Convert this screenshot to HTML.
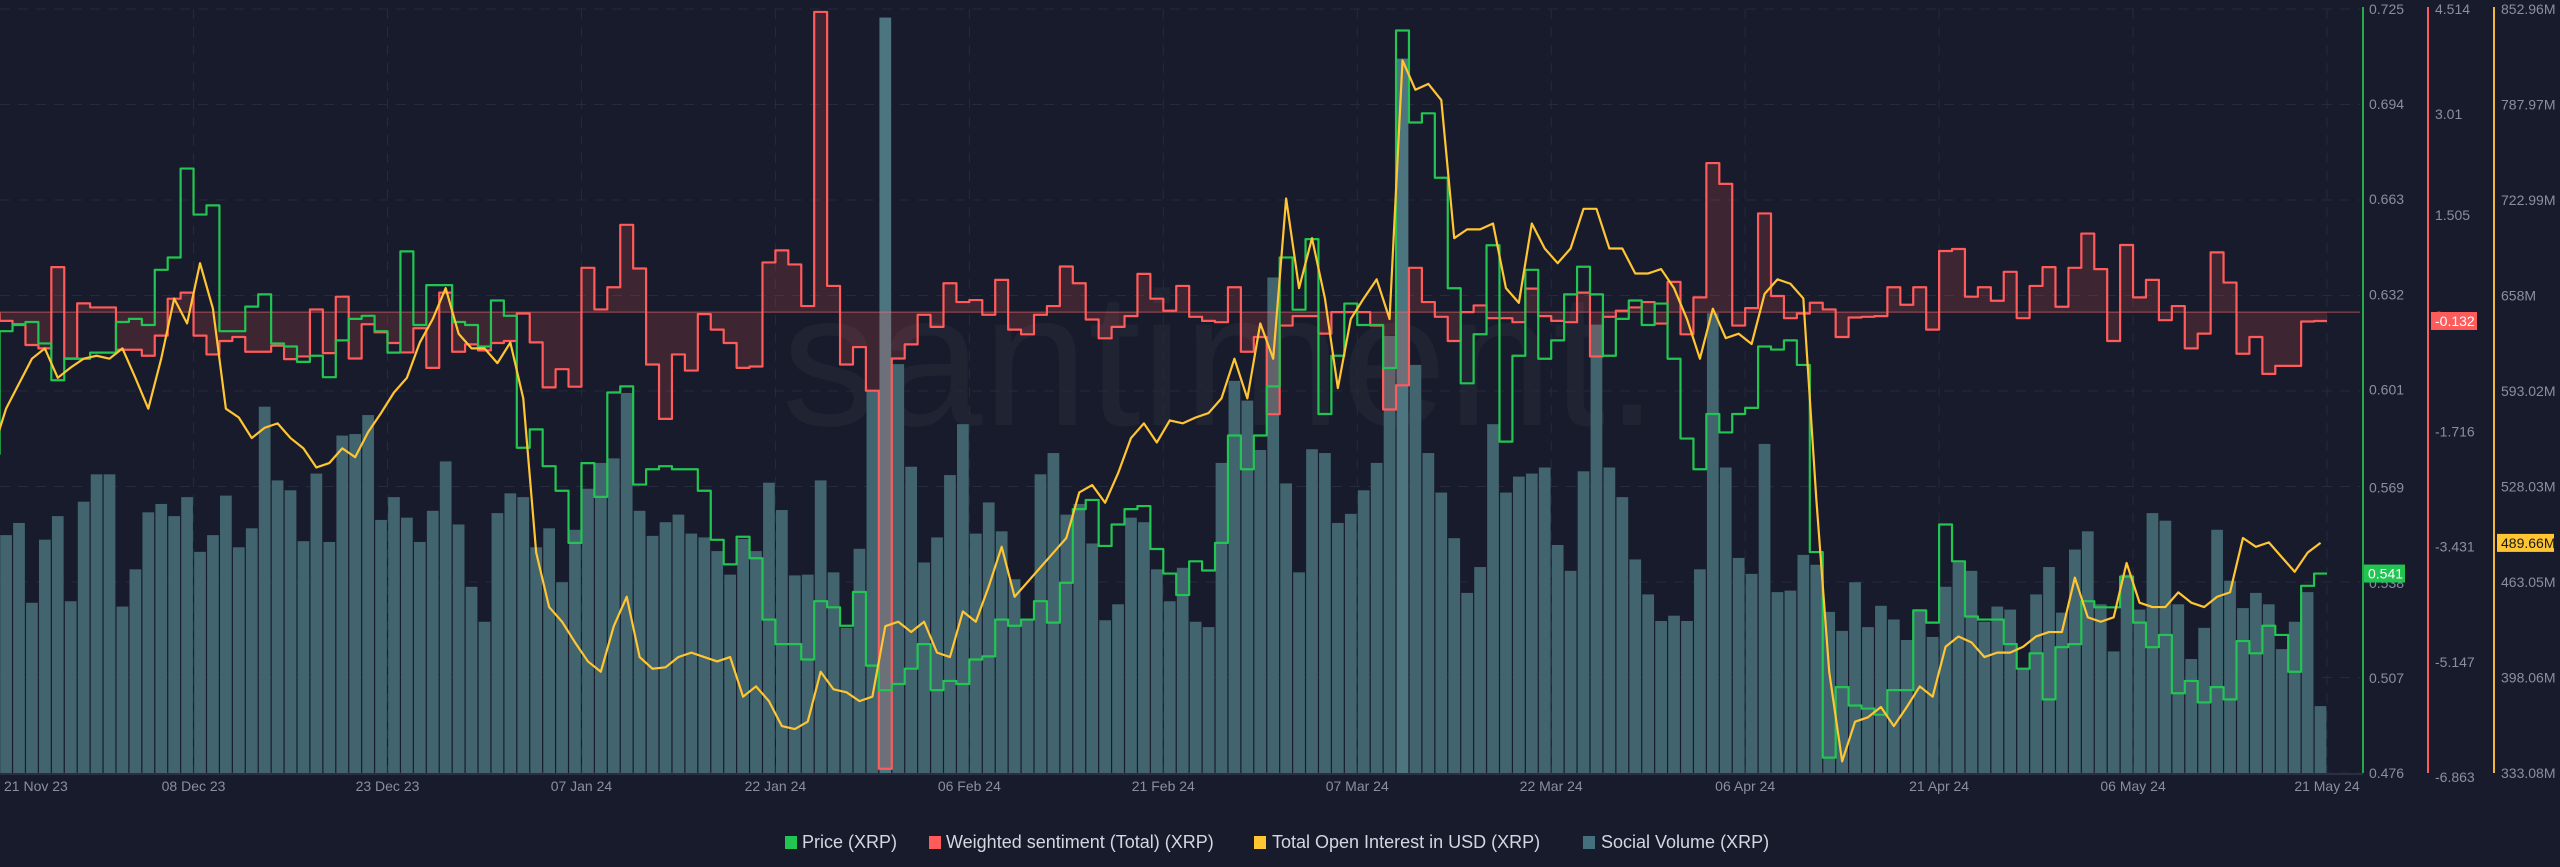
<!DOCTYPE html>
<html><head><meta charset="utf-8">
<style>
html,body{margin:0;padding:0;background:#181b2b;}
body{width:2560px;height:867px;overflow:hidden;font-family:"Liberation Sans",sans-serif;}
svg{display:block}
</style></head>
<body>
<svg id="chart" width="2560" height="867" xmlns="http://www.w3.org/2000/svg">
<rect x="0" y="0" width="2560" height="867" fill="#181b2b"/>
<text x="1220" y="425" text-anchor="middle" font-size="190" fill="#ffffff" fill-opacity="0.035" font-family="Liberation Sans, sans-serif">santiment.</text>
<g id="grid"></g>
<g id="bars"></g>
<g id="sent"></g>
<g id="price"></g>
<g id="oi"></g>
<g id="axes"></g>
<g id="legend">
  <g><rect x="785" y="836" width="12" height="13" fill="#23c552"/><text x="802" y="848" font-size="18" fill="#d4d7e0">Price (XRP)</text></g>
  <g><rect x="929" y="836" width="12" height="13" fill="#ff5b5b"/><text x="946" y="848" font-size="18" fill="#d4d7e0">Weighted sentiment (Total) (XRP)</text></g>
  <g><rect x="1254" y="836" width="12" height="13" fill="#ffc532"/><text x="1272" y="848" font-size="18" fill="#d4d7e0">Total Open Interest in USD (XRP)</text></g>
  <g><rect x="1583" y="836" width="12" height="13" fill="#43707c"/><text x="1601" y="848" font-size="18" fill="#d4d7e0">Social Volume (XRP)</text></g>
</g>
</svg>
<script>
const volume = [82,313,329,224,307,338,226,357,393,393,219,268,343,354,338,363,291,313,365,297,322,482,385,372,305,394,304,444,446,471,333,363,336,304,345,410,327,245,199,342,368,363,297,322,251,320,374,
408,414,500,345,312,330,340,315,310,292,261,308,292,382,346,260,261,385,264,191,295,503,994,538,403,277,310,392,459,315,356,318,255,202,393,421,340,354,302,201,222,336,330,268,226,270,199,
192,408,516,490,425,652,381,264,426,421,329,341,372,408,575,940,537,421,369,309,237,271,459,369,390,394,402,300,266,397,590,402,363,281,235,200,207,200,268,605,402,283,262,433,238,240,
287,274,212,187,251,192,220,202,175,213,179,245,277,266,199,219,215,137,235,271,211,294,318,222,160,261,215,342,332,222,150,191,320,253,217,237,222,163,199,238,88];
const price = [0.580,0.620,0.622,0.623,0.616,0.604,0.611,0.611,0.613,0.613,0.623,0.624,0.622,0.640,0.644,0.673,0.658,0.661,0.620,0.620,0.628,0.632,0.616,0.615,0.610,0.612,0.605,0.617,0.624,0.625,0.620,0.613,0.646,0.622,0.635,0.635,0.623,0.622,0.615,0.630,0.625,0.582,0.588,0.576,0.568,0.551,0.577,
0.566,0.600,0.602,0.570,0.575,0.576,0.575,0.575,0.568,0.552,0.544,0.553,0.546,0.526,0.518,0.518,0.513,0.532,0.530,0.524,0.535,0.511,0.503,0.505,0.510,0.518,0.503,0.506,0.505,0.513,0.514,0.526,0.524,0.526,0.532,0.525,0.538,0.562,0.565,0.550,0.557,0.562,0.563,0.549,0.541,0.534,0.545,
0.542,0.551,0.586,0.575,0.586,0.602,0.644,0.627,0.650,0.593,0.612,0.629,0.622,0.622,0.608,0.718,0.688,0.691,0.670,0.634,0.603,0.619,0.648,0.584,0.612,0.640,0.611,0.617,0.632,0.641,0.632,0.612,0.624,0.630,0.622,0.629,0.611,0.585,0.575,0.593,0.587,0.593,0.595,0.615,0.614,0.617,
0.609,0.548,0.481,0.504,0.498,0.497,0.495,0.503,0.503,0.529,0.525,0.557,0.545,0.527,0.526,0.526,0.518,0.510,0.515,0.500,0.517,0.518,0.532,0.530,0.530,0.540,0.525,0.517,0.521,0.502,0.506,0.499,0.504,0.500,0.519,0.515,0.524,0.521,0.509,0.537,0.541];
const sentiment = [-0.02,-0.13,-0.18,-0.49,-0.54,0.67,-0.69,0.13,0.07,0.07,-0.56,-0.56,-0.65,-0.35,0.20,0.29,-0.35,-0.63,-0.43,-0.37,-0.59,-0.59,-0.50,-0.70,-0.66,0.04,-0.61,0.23,-0.69,-0.18,-0.30,-0.46,-0.60,-0.24,-0.83,0.29,-0.59,-0.48,-0.57,-0.46,-0.43,-0.02,-0.45,-1.12,-0.85,-1.11,0.66,
0.04,0.37,1.30,0.65,-0.78,-1.59,-0.63,-0.87,-0.03,-0.26,-0.46,-0.83,-0.81,0.74,0.92,0.71,0.09,4.47,0.39,-0.78,-0.52,-1.17,-6.80,-0.69,-0.48,-0.04,-0.22,0.43,0.15,0.18,-0.04,0.48,-0.26,-0.33,-0.04,0.09,0.68,0.43,-0.11,-0.39,-0.22,-0.06,0.57,0.20,0.02,0.39,-0.07,
-0.13,-0.15,0.37,-0.59,-0.37,-1.52,-0.20,-0.06,-0.06,-0.32,0.00,0.00,0.00,-0.20,-1.45,-1.09,0.66,0.15,-0.07,-0.43,0.00,0.10,-0.09,-0.09,-0.15,0.35,-0.06,-0.13,-0.15,0.29,-0.66,-0.07,0.02,0.07,0.15,-0.17,0.45,-0.33,0.22,2.22,1.91,-0.20,0.06,1.47,0.24,-0.09,
-0.02,0.14,0.04,-0.37,-0.08,-0.07,-0.06,0.37,0.11,0.37,-0.26,0.91,0.94,0.23,0.37,0.17,0.60,-0.09,0.39,0.67,0.08,0.66,1.17,0.64,-0.43,1.00,0.22,0.48,-0.12,0.09,-0.54,-0.32,0.89,0.44,-0.62,-0.37,-0.92,-0.80,-0.80,-0.14,-0.132];
const openInterest = [553,581,598,615,622,602,609,615,617,615,622,602,581,615,656,639,680,649,581,575,561,568,571,561,554,541,544,554,548,565,578,592,602,626,642,663,632,622,622,612,626,588,483,446,436,422,409,
402,433,453,412,404,405,412,415,412,409,412,385,392,382,365,363,368,402,390,388,382,385,433,436,429,436,415,412,443,436,460,487,453,463,473,483,493,524,529,517,537,561,571,558,573,571,575,
578,588,615,588,639,615,724,663,697,656,595,642,656,669,642,818,798,802,791,697,703,703,707,663,653,707,690,680,690,717,717,690,690,673,673,676,663,642,615,649,629,632,625,659,669,666,
656,520,402,341,368,371,378,365,378,392,385,419,426,422,412,415,415,419,426,429,429,466,439,436,439,476,449,446,446,456,449,446,453,456,493,487,490,480,470,483,489.66];
const priceTicks = ["0.725","0.694","0.663","0.632","0.601","0.569","0.538","0.507","0.476"];
const sentTicks = ["4.514","3.01","1.505","0","-1.716","-3.431","-5.147","-6.863"];
const oiTicks = ["852.96M","787.97M","722.99M","658M","593.02M","528.03M","463.05M","398.06M","333.08M"];
const dateLabels = ["21 Nov 23","08 Dec 23","23 Dec 23","07 Jan 24","22 Jan 24","06 Feb 24","21 Feb 24","07 Mar 24","22 Mar 24","06 Apr 24","21 Apr 24","06 May 24","21 May 24"];

const NS="http://www.w3.org/2000/svg";
const TOP=9, BOT=773, RIGHT=2327;
const N=volume.length, W=12.93;
function xL(i){return RIGHT-(N-i)*W;}
function xR(i){return RIGHT-(N-i-1)*W;}
function xC(i){return xL(i)+W/2;}
function yPrice(v){return TOP+(0.725-v)/(0.725-0.476)*(BOT-TOP);}
function ySent(v){return TOP+(4.514-v)/(4.514+6.863)*(BOT-TOP);}
function yOI(v){return TOP+(852.96-v)/(852.96-333.08)*(BOT-TOP);}
function yVol(v){return BOT-v*0.76;}
function mk(tag,attrs,parent){const e=document.createElementNS(NS,tag);for(const k in attrs)e.setAttribute(k,attrs[k]);parent.appendChild(e);return e;}

const grid=document.getElementById('grid');
priceTicks.forEach((t,k)=>{
  const y=TOP+k*(BOT-TOP)/(priceTicks.length-1);
  const l=mk('line',{x1:0,x2:2360,y1:y,y2:y,stroke:'#262a3d','stroke-width':1,'stroke-dasharray':'10 8'},grid);
  
  
});
dateLabels.forEach((t,k)=>{
  const x=RIGHT-(dateLabels.length-1-k)*15*W;
  if(x>0){
    const l=mk('line',{x1:x,x2:x,y1:TOP,y2:BOT,stroke:'#262a3d','stroke-width':1,'stroke-dasharray':'10 8'},grid);
    
    
  }
});

const bars=document.getElementById('bars');
volume.forEach((v,i)=>{
  const y=yVol(v);
  const r=mk('rect',{x:xL(i)+0.6,y:y,width:W-1.2,height:BOT-y,fill:(v>900?'#4d7580':'#41646e')},bars);
  
  
});

// sentiment step with fill
const sg=document.getElementById('sent');
const y0=ySent(0);
let sp='', fp='M'+xL(0)+','+y0;
sentiment.forEach((v,i)=>{
  const y=ySent(v);
  sp+=(i===0?'M':'L')+xL(i)+','+y+'L'+xR(i)+','+y;
  fp+='L'+xL(i)+','+y+'L'+xR(i)+','+y;
});
fp+='L'+xR(N-1)+','+y0+'Z';
const sf=mk('path',{d:fp,fill:'#ff5b5b','fill-opacity':0.17},sg);


const zl=mk('line',{x1:0,x2:2360,y1:y0,y2:y0,stroke:'#ff7070','stroke-opacity':0.6,'stroke-width':1},sg);


const sl=mk('path',{d:sp,fill:'none',stroke:'#ff5b5b','stroke-width':2.2,'stroke-linejoin':'round'},sg);



const pg=document.getElementById('price');
let pp='';
price.forEach((v,i)=>{const y=yPrice(v);pp+=(i===0?'M':'L')+xL(i)+','+y+'L'+xR(i)+','+y;});
const pl=mk('path',{d:pp,fill:'none',stroke:'#23c552','stroke-width':2.2,'stroke-linejoin':'round'},pg);



const og=document.getElementById('oi');
let op='';
openInterest.forEach((v,i)=>{op+=(i===0?'M':'L')+xC(i)+','+yOI(v);});
const ol=mk('path',{d:op,fill:'none',stroke:'#ffc532','stroke-width':2.2,'stroke-linejoin':'round'},og);



const ax=document.getElementById('axes');
const a1=mk('line',{x1:2363,x2:2363,y1:7,y2:BOT,stroke:'#23a84a','stroke-width':2},ax);

const a2=mk('line',{x1:2428,x2:2428,y1:7,y2:BOT,stroke:'#ff5b5b','stroke-width':2},ax);

const a3=mk('line',{x1:2494,x2:2494,y1:7,y2:BOT,stroke:'#f0b83a','stroke-width':2},ax);

const bl=mk('line',{x1:0,x2:2363,y1:BOT+1,y2:BOT+1,stroke:'#2a2e40','stroke-width':2},ax);


priceTicks.forEach((t,k)=>{
  const y=yPrice(parseFloat(t));
  const e=mk('text',{x:2369,y:y+5,'font-size':14,fill:'#8a8f9e'},ax);e.textContent=t;
  
});
sentTicks.forEach((t,k)=>{
  const y=ySent(parseFloat(t));
  const e=mk('text',{x:2435,y:y+(k===0?5:9),'font-size':14,fill:'#8a8f9e'},ax);e.textContent=t;
  
});
oiTicks.forEach((t,k)=>{
  const y=yOI(parseFloat(t));
  const e=mk('text',{x:2501,y:y+5,'font-size':14,fill:'#8a8f9e'},ax);e.textContent=t;
  
});
dateLabels.forEach((t,k)=>{
  let x=RIGHT-(dateLabels.length-1-k)*15*W;
  const anchor=x<40?'start':'middle';
  if(x<40)x=4;
  const e=mk('text',{x:x,y:791,'font-size':14,fill:'#8a8f9e','text-anchor':anchor},ax);e.textContent=t;
  
});

function badge(x,y,w,bg,fg,txt,name){
  const g=mk('g',{},ax);
  
  
  mk('rect',{x:x,y:y-9,width:w,height:18,fill:bg},g);
  const t=mk('text',{x:x+4,y:y+5,'font-size':14,fill:fg},g);t.textContent=txt;
}
const lastP=price[N-1], lastS=sentiment[N-1], lastO=openInterest[N-1];
badge(2364,yPrice(lastP),41,'#23c552','#ffffff',lastP.toFixed(3),'price-last-value-badge');
badge(2431,ySent(lastS),46,'#ff5b5b','#ffffff',lastS.toFixed(3),'sentiment-last-value-badge');
badge(2497,yOI(lastO),57,'#ffc532','#1a1a1a',lastO.toFixed(2)+'M','oi-last-value-badge');
</script>
</body></html>
